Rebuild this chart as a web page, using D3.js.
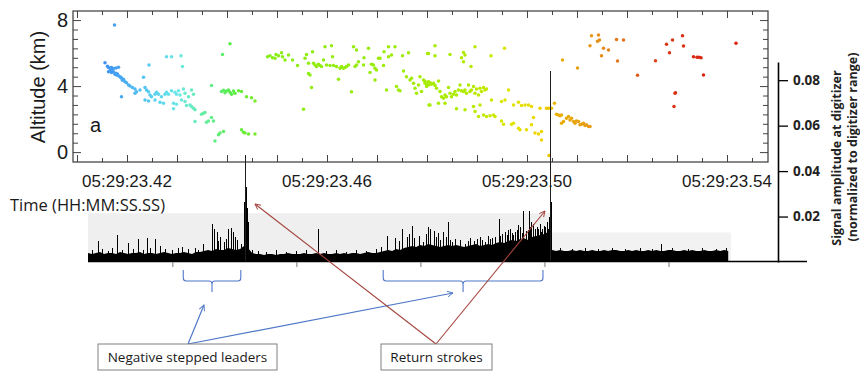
<!DOCTYPE html>
<html><head><meta charset="utf-8">
<script src="https://cdn.jsdelivr.net/npm/d3@7"></script>
<style>body{margin:0;background:#fff}svg{display:block}</style>
</head><body><svg id="c" width="860" height="372"></svg>
<script>
// ---------- DATA ----------
// VHF sources: [seconds after 05:29:23, altitude km]
const lightningSources = [
[0.4175,7.70],
[0.4156,5.42],[0.4161,5.20],[0.4163,5.12],[0.4166,5.08],[0.4169,5.12],[0.4173,5.06],[0.4178,5.10],[0.4183,5.14],
[0.4163,4.87],[0.4167,4.95],[0.4169,4.83],[0.4173,4.85],[0.4176,4.71],[0.4179,4.67],[0.4183,4.63],[0.4186,4.57],[0.4189,4.47],[0.4193,4.41],[0.4196,4.27],[0.4199,4.20],[0.4203,4.07],[0.4206,4.01],[0.4211,3.91],[0.4216,3.83],
[0.4171,4.93],[0.4178,4.78],[0.4181,4.74],[0.4188,4.52],[0.4191,4.35],
[0.4233,4.53],[0.4244,5.28],[0.4189,3.36],
[0.4216,3.56],[0.4219,3.66],[0.4226,3.77],[0.4236,3.91],[0.4239,3.77],[0.4243,3.66],[0.4246,3.46],[0.4249,3.36],[0.4256,3.50],[0.4259,3.63],[0.4263,3.50],[0.4269,3.36],[0.4276,3.50],[0.4279,3.63],[0.4283,3.50],[0.4289,3.71],[0.4296,3.63],[0.4299,3.50],[0.4303,3.71],[0.4306,3.46],[0.4313,3.83],[0.4316,3.56],[0.4323,3.36],[0.4329,3.77],[0.4333,3.50],
[0.4236,3.16],[0.4243,3.10],[0.4256,3.16],[0.4266,3.02],[0.4273,2.96],
[0.4279,5.78],[0.4289,5.78],[0.4308,5.84],[0.4311,5.18],
[0.4293,2.96],[0.4299,2.90],[0.4309,3.16],[0.4316,3.06],[0.4319,2.82],[0.4326,2.86],[0.4329,2.76],[0.4333,2.66],[0.4336,2.56],[0.4293,2.62],
[0.4349,2.29],[0.4353,2.36],[0.4356,2.40],[0.4363,1.89],[0.4359,1.81],[0.4369,2.09],[0.4373,1.89],[0.4336,1.85],
[0.4369,4.03],[0.4391,5.92],[0.4406,6.57],
[0.4389,3.67],[0.4393,3.75],[0.4396,3.60],[0.4399,3.70],[0.4403,3.77],[0.4406,3.63],[0.4409,3.50],[0.4413,3.70],[0.4416,3.56],[0.4423,3.71],[0.4429,3.67],[0.4439,3.36],[0.4449,3.30],[0.4456,3.10],
[0.4386,1.15],[0.4393,1.25],[0.4383,1.05],[0.4376,0.68],
[0.4429,1.35],[0.4433,1.21],[0.4436,1.15],[0.4443,1.09],[0.4456,1.09],
[0.4481,5.78],[0.4486,5.84],[0.4491,5.72],[0.4496,5.68],[0.4498,5.92],[0.4503,5.84],
[0.4509,6.02],[0.4511,5.78],[0.4516,5.58],[0.4523,5.88],[0.4531,5.58],
[0.4541,5.24],[0.4553,2.60],
[0.4556,5.68],[0.4559,5.92],[0.4563,5.38],[0.4563,4.77],[0.4566,4.67],[0.4569,3.91],
[0.4571,6.08],[0.4573,5.38],[0.4576,5.28],[0.4579,5.18],[0.4583,5.32],[0.4586,5.24],[0.4589,5.18],[0.4593,5.58],[0.4596,6.39],[0.4599,5.28],
[0.4606,5.24],[0.4609,6.45],[0.4611,5.78],[0.4613,5.24],[0.4619,5.18],[0.4623,4.41],[0.4626,5.08],[0.4629,5.18],[0.4633,5.08],[0.4636,5.12],[0.4639,5.18],[0.4643,5.28],
[0.4649,3.66],
[0.4653,6.39],[0.4656,5.18],[0.4659,5.28],[0.4659,6.19],[0.4663,5.48],[0.4673,5.28],[0.4674,5.72],[0.4683,6.29],
[0.4686,4.83],[0.4689,5.32],[0.4693,5.28],[0.4696,5.08],[0.4696,4.37],[0.4699,4.98],[0.4703,5.68],[0.4706,5.68],[0.4713,5.24],[0.4714,6.08],
[0.4719,3.77],[0.4723,6.39],[0.4723,5.78],[0.4729,5.88],[0.4736,6.39],[0.4739,3.97],[0.4743,3.77],[0.4746,3.71],
[0.4751,5.84],[0.4753,4.91],[0.4759,4.57],[0.4763,6.02],[0.4766,4.37],[0.4769,4.47],[0.4773,4.17],[0.4776,3.87],[0.4779,3.56],[0.4783,4.07],[0.4786,4.57],[0.4789,3.67],[0.4793,4.37],[0.4796,4.17],[0.4799,3.97],[0.4803,4.27],[0.4803,5.98],[0.4806,2.86],
[0.4801,5.98],[0.4816,6.45],[0.4816,5.84],[0.4846,5.92],[0.4869,5.72],[0.4873,6.04],[0.4873,5.48],[0.4876,5.88],[0.4888,5.18],[0.4896,6.39],[0.4928,5.84],[0.4955,6.29],
[0.4796,4.30],[0.4799,4.12],[0.4803,4.07],[0.4806,4.22],[0.4809,4.11],[0.4813,4.17],[0.4816,4.03],[0.4819,3.87],[0.4823,4.31],[0.4826,3.67],[0.4829,3.36],[0.4833,3.26],[0.4836,3.46],[0.4839,3.36],[0.4843,3.91],[0.4846,3.56],[0.4849,3.36],[0.4853,3.50],[0.4856,3.67],[0.4859,3.46],[0.4863,3.77],[0.4866,4.07],[0.4869,3.71],[0.4873,3.67],[0.4876,3.77],[0.4879,3.56],[0.4883,4.07],[0.4886,3.67],[0.4889,3.77],[0.4893,3.97],[0.4896,3.56],[0.4899,3.83],[0.4903,3.46],[0.4906,3.87],[0.4909,3.67],[0.4913,3.91],[0.4916,3.77],[0.4919,3.83],
[0.4804,2.86],[0.4823,2.96],[0.4836,2.96],[0.4859,2.62],[0.4876,2.56],[0.4893,2.76],[0.4896,2.46],[0.4906,2.86],[0.4903,2.15],[0.4913,2.25],[0.4919,2.15],[0.4926,2.21],[0.4933,2.25],[0.4936,2.15],[0.4929,3.16],[0.4949,3.06],[0.4956,3.16],[0.4963,3.77],[0.4949,1.89],[0.4953,1.69],[0.4969,1.69],[0.4973,1.75],[0.4986,1.35],[0.4983,1.45],[0.4973,2.86],[0.4983,3.02],[0.4989,2.82],[0.4996,2.86],[0.5003,2.86],[0.5009,2.76],[0.5013,2.09],[0.5009,1.65],[0.4999,1.35],[0.5016,1.15],[0.5023,1.09],[0.5029,1.25],[0.5029,0.74],[0.5026,2.66],[0.5039,2.66],[0.5043,2.66],
[0.5055,2.96],[0.5049,2.66],[0.5044,-0.20],
[0.5059,2.29],[0.5063,2.25],[0.5066,2.21],[0.5069,2.25],[0.5069,1.75],[0.5073,1.85],[0.5079,2.05],[0.5083,2.15],[0.5086,1.95],[0.5089,2.05],[0.5093,1.85],[0.5096,1.75],[0.5099,1.89],[0.5103,1.85],[0.5106,1.65],[0.5109,1.69],[0.5113,1.75],[0.5116,1.61],[0.5119,1.65],[0.5123,1.55],[0.5126,1.55],
[0.5071,5.58],[0.5101,5.10],[0.5126,6.45],[0.5129,7.05],[0.5143,7.09],[0.5145,6.79],[0.5141,6.71],[0.5153,6.29],[0.5163,6.19],[0.5149,5.84],[0.5179,6.83],[0.5193,6.79],[0.5181,5.52],[0.5221,4.66],
[0.5257,5.54],[0.5279,6.53],[0.5285,6.02],[0.5291,6.79],[0.5311,7.05],[0.5313,6.43],[0.5333,5.78],[0.5340,5.74],[0.5344,5.74],[0.5348,5.72],[0.5353,4.67],[0.5296,3.57],[0.5297,3.60],[0.5294,2.76],[0.5418,6.59]
];

// colour by time of source
const colorTimes  = [0.4150,0.4240,0.4300,0.4360,0.4410,0.4480,0.4700,0.4880,0.4960,0.5030,0.5060,0.5130,0.5200,0.5270,0.5350];
const colorValues = ['#3f8ff2','#55c8f2','#6ae8e8','#66ee99','#5aec4a','#88ee18','#9aec08','#b0ea00','#dde600','#eed400','#e8b000','#e89818','#e06a18','#dc3a18','#d82410'];

const xTickTimes  = [0.42, 0.46, 0.50, 0.54];
const xTickLabels = ['05:29:23.42','05:29:23.46','05:29:23.50','05:29:23.54'];
const yTickLabels = [0, 4, 8];
const ampTicks    = [0.02, 0.04, 0.06, 0.08];

// digitizer waveform: noise floor sampled every floorStepMs, plus individual pulses [ms, amplitude]
const floorStepMs = 0.8065;
const waveFloor = [
.0040,.0035,.0040,.0044,.0035,.0040,.0040,.0035,.0044,.0040,.0035,.0040,.0040,.0044,.0035,.0040,.0040,.0035,.0040,.0044,.0040,.0035,.0040,.0040,.0044,.0040,.0035,.0044,
.0044,.0048,.0053,.0048,.0057,.0053,.0053,.0062,.0057,.0053,.0057,.0070,
.0062,
.0040,.0035,.0035,.0031,.0035,.0035,.0031,.0035,.0035,.0040,.0035,.0035,
.0035,.0040,.0035,.0035,.0040,.0035,.0040,.0035,.0035,.0040,.0035,.0040,.0035,.0040,.0040,.0035,.0040,.0044,.0040,.0040,.0044,.0048,
.0053,.0048,.0057,.0053,.0062,.0066,
.0070,.0066,.0075,.0070,.0079,.0075,.0070,.0066,.0070,.0075,.0070,.0075,.0070,.0066,.0070,.0075,.0079,.0070,.0075,.0079,.0075,.0084,
.0088,.0084,.0092,.0097,.0092,.0101,.0105,.0097,.0110,.0114,.0119,.0123,.0132,
.0053,
.0048,.0053,.0048,.0048,.0053,.0048,.0053,.0048,.0048,.0053,.0048,.0048,.0053,.0048,.0053,.0053,.0048,.0048,.0053,.0048,
.0053,.0048,.0048,.0053,.0048,.0053,.0048,.0048,.0053,.0053,.0048,.0048,.0053,.0048,.0053,.0048,.0048,.0053,.0048,.0048,
.0053,.0048,.0053,.0048
];
const wavePulses = [
[2.0,.0092],[5.8,.0119],[8.1,.0084],[10.1,.0101],[11.9,.0105],[13.5,.0101],[14.5,.0070],[19.0,.0066],[21.6,.0062],[23.2,.0079],
[25.0,.0167],[25.4,.0145],[26.0,.0132],[26.6,.0110],[27.4,.0088],[28.2,.0145],[28.8,.0149],[29.2,.0132],[30.0,.0097],[30.8,.0079],
[31.5,.0264],[31.7,.0470],[31.9,.0330],[32.1,.0237],[32.3,.0176],[33.1,.0053],
[46.4,.0145],[60.3,.0114],[61.9,.0105],[63.3,.0145],[64.3,.0110],[64.7,.0123],[65.3,.0158],[66.7,.0114],
[68.5,.0154],[69.0,.0145],[69.8,.0136],[70.6,.0127],[71.6,.0132],[72.6,.0176],[74.0,.0101],[76.0,.0079],[78.4,.0101],[80.0,.0088],
[81.5,.0105],[82.9,.0189],[84.1,.0132],[85.1,.0145],[85.7,.0119],[86.7,.0163],[87.7,.0224],[88.3,.0136],[88.9,.0224],[89.7,.0167],
[90.5,.0154],[91.5,.0145],[92.5,.0176],[92.9,.0198],[93.1,.0840],[93.3,.0264],[115.5,.0079],
[0.8,.0053],[2.8,.0057],[4.0,.0048],[4.8,.0062],[6.9,.0053],[9.1,.0057],[11.1,.0053],[12.5,.0062],[15.5,.0057],[16.9,.0053],
[18.1,.0062],[20.2,.0057],[22.2,.0053],[34.3,.0048],[35.9,.0044],[37.9,.0053],[39.9,.0044],[41.9,.0048],[44.0,.0053],[48.0,.0048],
[50.0,.0053],[52.0,.0044],[54.0,.0053],[56.0,.0048],[58.1,.0057],[59.1,.0066],[65.7,.0105],[67.5,.0088],[68.1,.0123],[71.0,.0097],
[72.2,.0110],[73.4,.0088],[75.0,.0097],[77.0,.0105],[77.8,.0092],[79.4,.0097],[80.6,.0114],[82.1,.0110],[83.5,.0123],[84.7,.0141],
[86.1,.0132],[87.1,.0154],[89.3,.0176],[90.1,.0145],[91.1,.0167],[91.9,.0158],
[95.2,.0062],[97.6,.0057],[100.2,.0062],[102.8,.0057],[105.6,.0062],[108.3,.0057],[111.3,.0062],[113.7,.0057],[117.7,.0062],[121.0,.0057],
[123.8,.0062],[126.6,.0057],[128.6,.0062],
[26.2,.0092],[27.8,.0101],[29.6,.0110],[62.6,.0092],[70.2,.0110],[73.0,.0097],[76.6,.0092],[79.0,.0110],[81.0,.0101],[83.0,.0114],
[84.4,.0119],[85.4,.0127],[86.4,.0141],[87.4,.0127],[88.6,.0141],[89.0,.0154],[90.8,.0145],[91.3,.0132],[92.2,.0154],[92.7,.0145]
];
const waveTicksMs = [17, 42, 67, 92, 117];

// ---------- DRAW ----------
const svg = d3.select('#c');
const FONT = '"Liberation Sans", Arial, sans-serif';
const SANS = '"Open Sans", "Noto Sans", sans-serif';

const box = {l:73, r:768, t:11, b:162};
const x = d3.scaleLinear().domain([0.4092, 0.5482]).range([box.l, box.r]);
const y = d3.scaleLinear().domain([-0.6, 8.55]).range([box.b, box.t]);
const color = d3.scaleLinear().domain(colorTimes).range(colorValues).clamp(true);

const waveX = d3.scaleLinear().domain([0, 129.6]).range([88, 731]);
const ampY  = d3.scaleLinear().domain([0, 0.088]).range([262, 62]);

// gray background bands behind the waveform
svg.append('rect').attr('x', waveX(0)).attr('y', ampY(0.0215)).attr('width', waveX(93.1)-waveX(0)).attr('height', ampY(0)-ampY(0.0215)).attr('fill','#efefef');
svg.append('rect').attr('x', waveX(93.1)).attr('y', ampY(0.013)).attr('width', waveX(129.6)-waveX(93.1)).attr('height', ampY(0)-ampY(0.013)).attr('fill','#f2f2f2');

// scatter
svg.append('g').selectAll('circle').data(lightningSources).join('circle')
  .attr('cx', d => x(d[0])).attr('cy', d => y(d[1])).attr('r', 1.75)
  .attr('fill', d => color(d[0]));

// top plot frame + ticks
const minorT = d3.range(0.410, 0.5451, 0.005);
function xAxes(gen, yPos, size){
  const g = svg.append('g').attr('transform', `translate(0,${yPos})`)
    .call(gen(x).tickValues(minorT).tickSize(size).tickFormat(''));
  g.select('.domain').remove();
  g.selectAll('.tick line').attr('stroke','#444').attr('stroke-width',1)
    .filter(d => Math.abs(Math.round(d*100) - d*100) < 1e-6).attr('y2', gen === d3.axisBottom ? 7 : -7);
}
xAxes(d3.axisBottom, box.t, 4);
xAxes(d3.axisTop, box.b, 4);
const yTicks = d3.range(15).map(i => i*8/14);
function yAxes(gen, xPos){
  const g = svg.append('g').attr('transform', `translate(${xPos},0)`)
    .call(gen(y).tickValues(yTicks).tickSize(5).tickFormat(''));
  g.select('.domain').remove();
  g.selectAll('.tick line').attr('stroke','#444').attr('stroke-width',1)
    .filter(d => yTickLabels.some(v => Math.abs(v-d) < 1e-6)).attr('x2', gen === d3.axisRight ? 8 : -8);
}
yAxes(d3.axisRight, box.l);
yAxes(d3.axisLeft, box.r);
svg.append('rect').attr('x',box.l).attr('y',box.t).attr('width',box.r-box.l).attr('height',box.b-box.t)
  .attr('fill','none').attr('stroke','#3a3a3a').attr('stroke-width',1.2);

// y labels
svg.append('g').selectAll('text').data(yTickLabels).join('text')
  .attr('x', 68).attr('y', d => y(d)).attr('dy','0.36em').attr('text-anchor','end')
  .attr('font-family', FONT).attr('font-size', 20).attr('fill','#1a1a1a').text(d => d);
svg.append('text').attr('transform','translate(45,87) rotate(-90)').attr('text-anchor','middle')
  .attr('font-family', FONT).attr('font-size', 20).attr('fill','#1a1a1a').text('Altitude (km)');
svg.append('text').attr('x', 90).attr('y', 132).attr('font-family', FONT).attr('font-size', 20).attr('fill','#1a1a1a').text('a');

// x labels
svg.append('g').selectAll('text').data(xTickTimes).join('text')
  .attr('x', d => x(d)).attr('y', 187).attr('text-anchor','middle')
  .attr('font-family', FONT).attr('font-size', 17).attr('fill','#1a1a1a')
  .text((d,i) => xTickLabels[i]);
svg.append('text').attr('x', 10).attr('y', 211).attr('font-family', SANS).attr('font-size', 16.5).attr('fill','#1a1a1a')
  .text('Time (HH:MM:SS.SS)');

// waveform
svg.append('path').datum(waveFloor)
  .attr('d', d3.area().x((d,i) => waveX(i*floorStepMs)).y0(ampY(0)).y1(d => ampY(d)))
  .attr('fill','#000');
svg.append('g').attr('shape-rendering','crispEdges').selectAll('line').data(wavePulses).join('line')
  .attr('x1', d => Math.round(waveX(d[0]))+0.5).attr('x2', d => Math.round(waveX(d[0]))+0.5)
  .attr('y1', ampY(0)).attr('y2', d => ampY(d[1]))
  .attr('stroke', d => d[1] > 0.04 ? '#1e1e1e' : '#000').attr('stroke-width', d => d[1] > 0.04 ? 1.5 : 1);

// waveform axes
svg.append('line').attr('x1', 88).attr('x2', 807).attr('y1', 261.5).attr('y2', 261.5).attr('stroke','#000').attr('stroke-width',1.5);
const wt = svg.append('g').attr('transform','translate(0,262)')
  .call(d3.axisBottom(waveX).tickValues(waveTicksMs).tickSize(5).tickFormat(''));
wt.select('.domain').remove();
wt.selectAll('.tick line').attr('stroke','#777');

const ra = svg.append('g').attr('transform','translate(778,0)')
  .call(d3.axisRight(ampY).tickValues(ampTicks).tickSize(10).tickSizeOuter(0).tickFormat(d3.format('.2f')));
ra.select('.domain').attr('stroke','#000').attr('stroke-width',1.6);
ra.selectAll('.tick line').attr('stroke','#000').attr('stroke-width',1.3);
ra.selectAll('.tick text').attr('x', 15).attr('font-family', SANS).attr('font-weight', 700)
  .attr('font-size', 13.5).attr('fill','#222');
svg.append('text').attr('transform','translate(841,158) rotate(-90)').attr('text-anchor','middle')
  .attr('font-family', SANS).attr('font-weight', 700).attr('font-size', 12.5).attr('fill','#222')
  .text('Signal amplitude at digitizer');
svg.append('text').attr('transform','translate(857,147) rotate(-90)').attr('text-anchor','middle')
  .attr('font-family', SANS).attr('font-weight', 700).attr('font-size', 12.5).attr('fill','#222')
  .text('(normalized to digitizer range)');

// ---------- annotations ----------
const blue = '#4f78c8', red = '#a4443e';
const defs = svg.append('defs');
function marker(id, col){
  defs.append('marker').attr('id', id).attr('viewBox','0 0 10 10').attr('refX', 9).attr('refY', 5)
    .attr('markerWidth', 7).attr('markerHeight', 7).attr('orient','auto').attr('markerUnits','userSpaceOnUse')
    .append('path').attr('d','M1,1 L9,5 L1,9').attr('fill','none').attr('stroke', col).attr('stroke-width', 1.3);
}
marker('ab', blue); marker('ar', red);

function brace(x1, x2, xm){
  const top = 270, h = 281, tip = 292;
  return `M${x1},${top} L${x1},${h-3} Q${x1},${h} ${x1+3},${h} L${xm-3},${h} Q${xm},${h} ${xm},${h+3} L${xm},${tip}` +
         ` M${xm},${h+3} Q${xm},${h} ${xm+3},${h} L${x2-3},${h} Q${x2},${h} ${x2},${h-3} L${x2},${top}`;
}
svg.append('path').attr('d', brace(waveX(19.2), waveX(30.8), waveX(25.0))).attr('fill','none').attr('stroke', blue).attr('stroke-width',1.1);
svg.append('path').attr('d', brace(waveX(59.5), waveX(91.7), waveX(75.6))).attr('fill','none').attr('stroke', blue).attr('stroke-width',1.1);

svg.append('line').attr('x1',188).attr('y1',344).attr('x2',204).attr('y2',305).attr('stroke',blue).attr('stroke-width',1.2).attr('marker-end','url(#ab)');
svg.append('line').attr('x1',188).attr('y1',344).attr('x2',453).attr('y2',293).attr('stroke',blue).attr('stroke-width',1.2).attr('marker-end','url(#ab)');
svg.append('line').attr('x1',436).attr('y1',344).attr('x2',255).attr('y2',204).attr('stroke',red).attr('stroke-width',1.1).attr('marker-end','url(#ar)');
svg.append('line').attr('x1',436).attr('y1',344).attr('x2',545).attr('y2',211).attr('stroke',red).attr('stroke-width',1.1).attr('marker-end','url(#ar)');

function labelBox(x0, x1, txt){
  svg.append('rect').attr('x',x0).attr('y',344).attr('width',x1-x0).attr('height',26)
    .attr('fill','#fff').attr('stroke','#808080').attr('stroke-width',1);
  svg.append('text').attr('x',(x0+x1)/2).attr('y',362).attr('text-anchor','middle')
    .attr('font-family', SANS).attr('font-size', 13.5).attr('fill','#1a1a1a').text(txt);
}
labelBox(98, 277, 'Negative stepped leaders');
labelBox(381, 492, 'Return strokes');
</script></body></html>
